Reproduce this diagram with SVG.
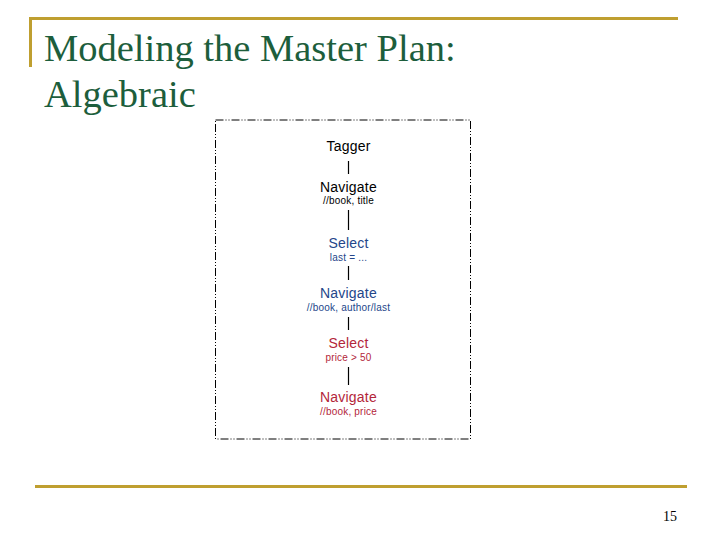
<svg xmlns="http://www.w3.org/2000/svg" width="720" height="540" viewBox="0 0 720 540">
<style>
.title{font-family:"Liberation Serif","Times New Roman",serif;font-size:38.5px;fill:#1d5e3c}
.op{font-family:"Liberation Sans",Arial,sans-serif;font-size:14px;text-anchor:middle;letter-spacing:0.2px}
.arg{font-family:"Liberation Sans",Arial,sans-serif;font-size:10px;text-anchor:middle;letter-spacing:0.2px}
.k{fill:#000}
.b{fill:#24468a}
.r{fill:#b3263a}
.bar{fill:#bf9f30}
.edge{stroke:#000;stroke-width:1.2}
</style>
<rect width="720" height="540" fill="#fff"/>
<rect class="bar" x="30" y="17" width="648" height="3"/>
<rect class="bar" x="29" y="17" width="3" height="50"/>
<rect class="bar" x="35" y="485" width="652" height="3"/>
<text class="title" x="44" y="61">Modeling the Master Plan:</text>
<text class="title" x="44" y="107">Algebraic</text>
<rect x="215.5" y="120" width="255" height="319" fill="none" stroke="#000" stroke-width="1" stroke-dasharray="8 2 1 2 1 2"/>
<g id="connectors">
<line class="edge" x1="348.5" y1="161" x2="348.5" y2="174"/>
<line class="edge" x1="348.5" y1="210" x2="348.5" y2="230"/>
<line class="edge" x1="348.5" y1="266" x2="348.5" y2="280"/>
<line class="edge" x1="348.5" y1="317" x2="348.5" y2="330"/>
<line class="edge" x1="348.5" y1="367" x2="348.5" y2="385"/>
</g>
<g id="tagger"><text class="op k" x="348.5" y="151">Tagger</text></g>
<g id="nav1"><text class="op k" x="348.5" y="192">Navigate</text><text class="arg k" x="348.5" y="204">//book, title</text></g>
<g id="sel1"><text class="op b" x="348.5" y="248">Select</text><text class="arg b" x="348.5" y="261">last = ...</text></g>
<g id="nav2"><text class="op b" x="348.5" y="298">Navigate</text><text class="arg b" x="348.5" y="311">//book, author/last</text></g>
<g id="sel2"><text class="op r" x="348.5" y="348">Select</text><text class="arg r" x="348.5" y="361">price &gt; 50</text></g>
<g id="nav3"><text class="op r" x="348.5" y="402">Navigate</text><text class="arg r" x="348.5" y="415">//book, price</text></g>
<text x="677" y="521" font-family="Liberation Serif,serif" font-size="14" text-anchor="end" fill="#000">15</text>
</svg>
